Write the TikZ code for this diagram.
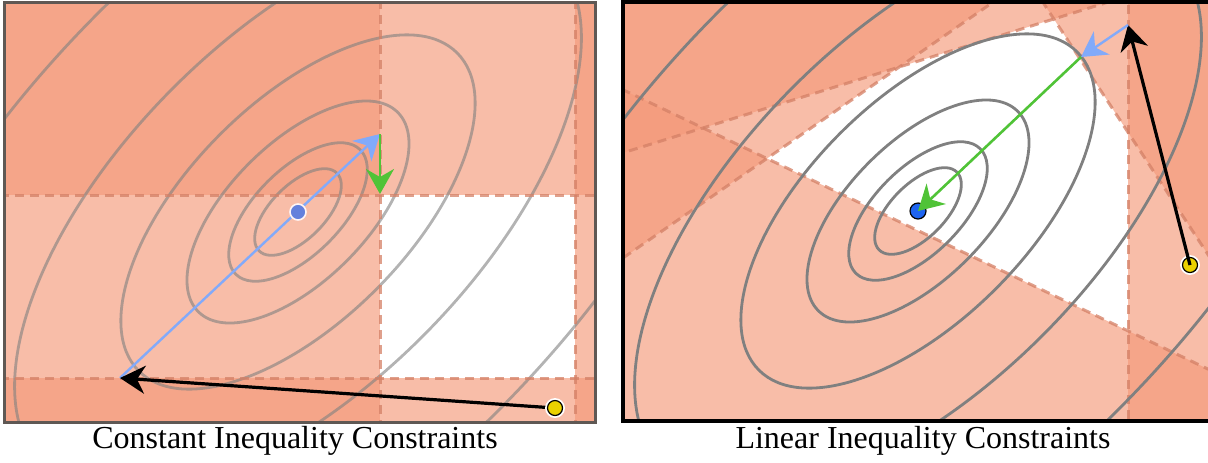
\documentclass[tikz,border=0pt]{standalone}
\usepackage{fontspec}
\setmainfont{Liberation Serif}
\usetikzlibrary{arrows.meta}
\definecolor{shade}{RGB}{244,153,121}
\definecolor{dashc}{RGB}{212,128,102}
\definecolor{contc}{RGB}{128,128,128}
\definecolor{blueline}{RGB}{130,170,250}
\definecolor{greenline}{RGB}{80,195,55}
\definecolor{dotblue}{RGB}{30,100,240}
\definecolor{dotfade}{RGB}{100,128,220}
\definecolor{dotyellow}{RGB}{235,210,0}
\definecolor{leftframe}{RGB}{95,88,84}
\begin{document}
\begin{tikzpicture}[x=0.5pt,y=-0.5pt,
  halfplane/.style={fill=shade, fill opacity=0.65},
  bound/.style={draw=dashc, draw opacity=0.75, line width=1.5pt, dash pattern=on 4.5pt off 3pt},
  contour/.style={draw=contc, line width=1.4pt},
  fadecontour/.style={contour, draw opacity=0.6},
  tip/.style={-{Stealth[length=12.5pt,width=14pt,inset=4pt]}},
  bluearrow/.style={tip, draw=blueline, fill=blueline, line width=1.2pt},
  greenarrow/.style={tip, draw=greenline, fill=greenline, line width=1.3pt},
  blackarrow/.style={tip, draw=black, fill=black, line width=1.6pt},
  ydot/.style={circle, inner sep=0pt, minimum size=7.5pt, fill=dotyellow, draw=black, line width=0.6pt, preaction={draw=white, line width=2.4pt}},
  bdot/.style={circle, inner sep=0pt, minimum size=8pt, fill=dotblue, draw=black, line width=0.6pt},
  fdot/.style={circle, inner sep=0pt, minimum size=8pt, fill=dotfade, draw=white!85!pink, line width=0.8pt},
  caption/.style={anchor=base, font=\fontsize{16}{19}\selectfont}]
\useasboundingbox (0,0) rectangle (1208,462);

% ---------------- left panel ----------------
\begin{scope}
  \clip (4,2) rectangle (595,422);
  \fill[halfplane] (0,0) rectangle (380,430);
  \fill[halfplane] (575,0) rectangle (600,430);
  \fill[halfplane] (0,0) rectangle (600,195);
  \fill[halfplane] (0,378) rectangle (600,430);
  \foreach \a/\b in {55/27,88/43,141/69,225/110,360/176,577/282}
    \draw[fadecontour, rotate around={45:(298,212)}] (298,212) ellipse [x radius=\a, y radius=\b];
  \draw[bound] (380,0) -- (380,430);
  \draw[bound] (575,0) -- (575,430);
  \draw[bound] (0,195) -- (600,195);
  \draw[bound] (0,378) -- (600,378);
\end{scope}
\draw[leftframe, line width=1.5pt] (4,2) rectangle (595,422);
\coordinate (lA) at (120,378);
\coordinate (lB) at (380,134);
\coordinate (lC) at (380,194);
\coordinate (lS) at (555,408);
\draw[bluearrow] (lA) -- (lB);
\draw[greenarrow] (lB) -- (lC);
\draw[blackarrow] (lS) -- (lA);
\node[fdot] (lopt) at (298,212) {};
\node[ydot] (lstart) at (lS) {};
\node[caption] (cap1) at (295,448) {Constant Inequality Constraints};

% ---------------- right panel ----------------
\begin{scope}
  \clip (623,2) rectangle (1214,421);
  % x <= 1128
  \fill[halfplane] (1128,-10) rectangle (1300,500);
  % L2
  \fill[halfplane] (976,-100) -- (1434,600) -- (1600,600) -- (1600,-100) -- cycle;
  % L3
  \fill[halfplane] (500,343) -- (1300,-210) -- (500,-210) -- cycle;
  % L4
  \fill[halfplane] (500,31) -- (1300,413) -- (1300,600) -- (500,600) -- cycle;
  % L5
  \fill[halfplane] (500,191) -- (1300,-57.5) -- (1300,-300) -- (500,-300) -- cycle;
  \draw[bound] (1128,-10) -- (1128,500);
  \draw[bound] (976,-100) -- (1434,600);
  \draw[bound] (500,343) -- (1300,-210);
  \draw[bound] (500,31) -- (1300,413);
  \draw[bound] (500,191) -- (1300,-57.5);
  \foreach \a/\b in {55/27,88/43,141/69,225/110,360/176,577/282}
    \draw[contour, rotate around={45:(918,211)}] (918,211) ellipse [x radius=\a, y radius=\b];
\end{scope}
\draw[black, line width=1.6pt] (623,2) rectangle (1214,421);
\coordinate (rA) at (1128,25);
\coordinate (rB) at (1081,57);
\node[bdot] (ropt) at (918,211) {};
\node[ydot] (rstart) at (1190,265) {};
\draw[blackarrow] (rstart.center) -- (rA);
\draw[bluearrow] (rA) -- (rB);
\draw[greenarrow] (rB) -- (ropt.center);
\node[caption] (cap2) at (923,448) {Linear Inequality Constraints};
\end{tikzpicture}
\end{document}
